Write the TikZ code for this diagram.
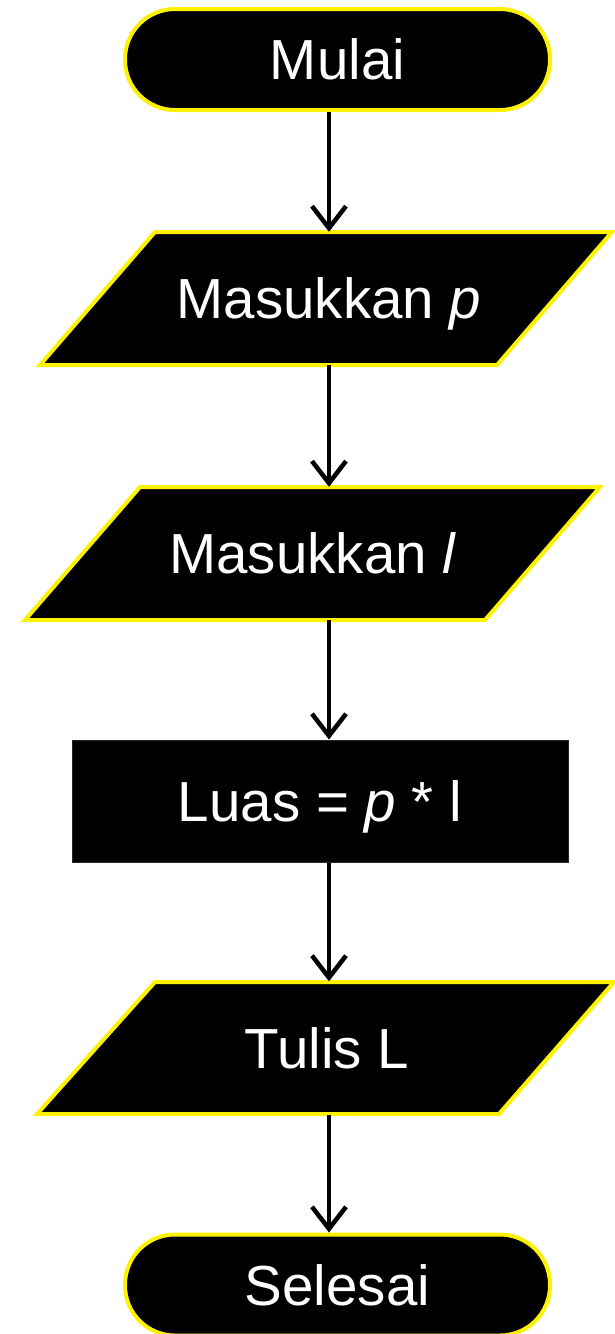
\documentclass[tikz,border=0pt]{standalone}
\usepackage{fontspec}
\setmainfont{Liberation Sans}
\usetikzlibrary{arrows.meta}

\begin{document}
\begin{tikzpicture}[
  x=1pt, y=-1pt,
  every node/.style={font=\fontsize{56.5}{68}\selectfont, text=white,
                     text height=40.4pt, text depth=0pt, inner sep=0pt},
  terminal/.style={draw=yellow, line width=4pt, fill=black,
                   rounded corners=50pt, minimum width=425pt, minimum height=101pt},
  process/.style={draw=black!85, line width=1pt, fill=black,
                  minimum width=496pt, minimum height=122pt},
  iobox/.style={draw=yellow, line width=4pt, fill=black, line join=miter},
  iolabel/.style={minimum height=133pt},
  flow/.style={draw=black, line width=4pt,
               -{Straight Barb[length=22pt, width=34pt, line width=4.5pt]}},
]
\useasboundingbox (0,0) rectangle (615,1334);

% vertical line of the flow
\coordinate (axis) at (329,0);

% start
\node[terminal] (start) at (337.5,59.5) {Mulai};

% input p
\draw[iobox] (155,232) -- (612,232) -- (497,365) -- (40,365) -- cycle;
\node[iolabel] (inp) at (329,298.5) {Masukkan \textit{p}};

% input l
\draw[iobox] (140,487) -- (600,487) -- (485,620) -- (25,620) -- cycle;
\node[iolabel] (inl) at (313,553.5) {Masukkan \textit{l}};

% area computation
\node[process] (calc) at (320,801) {Luas = \textit{p} * l};

% output
\draw[iobox] (155,982) -- (614,982) -- (499,1114) -- (37,1114) -- cycle;
\node[iolabel] (outL) at (327,1048) {Tulis L};

% end
\node[terminal] (stop) at (337.5,1285) {Selesai};

% connectors
\draw[flow] (start.south -| axis) -- (inp.north -| axis);
\draw[flow] (inp.south -| axis) -- (inl.north -| axis);
\draw[flow] (inl.south -| axis) -- (calc.north -| axis);
\draw[flow] (calc.south -| axis) -- (outL.north -| axis);
\draw[flow] (outL.south -| axis) -- (stop.north -| axis);
\end{tikzpicture}
\end{document}
